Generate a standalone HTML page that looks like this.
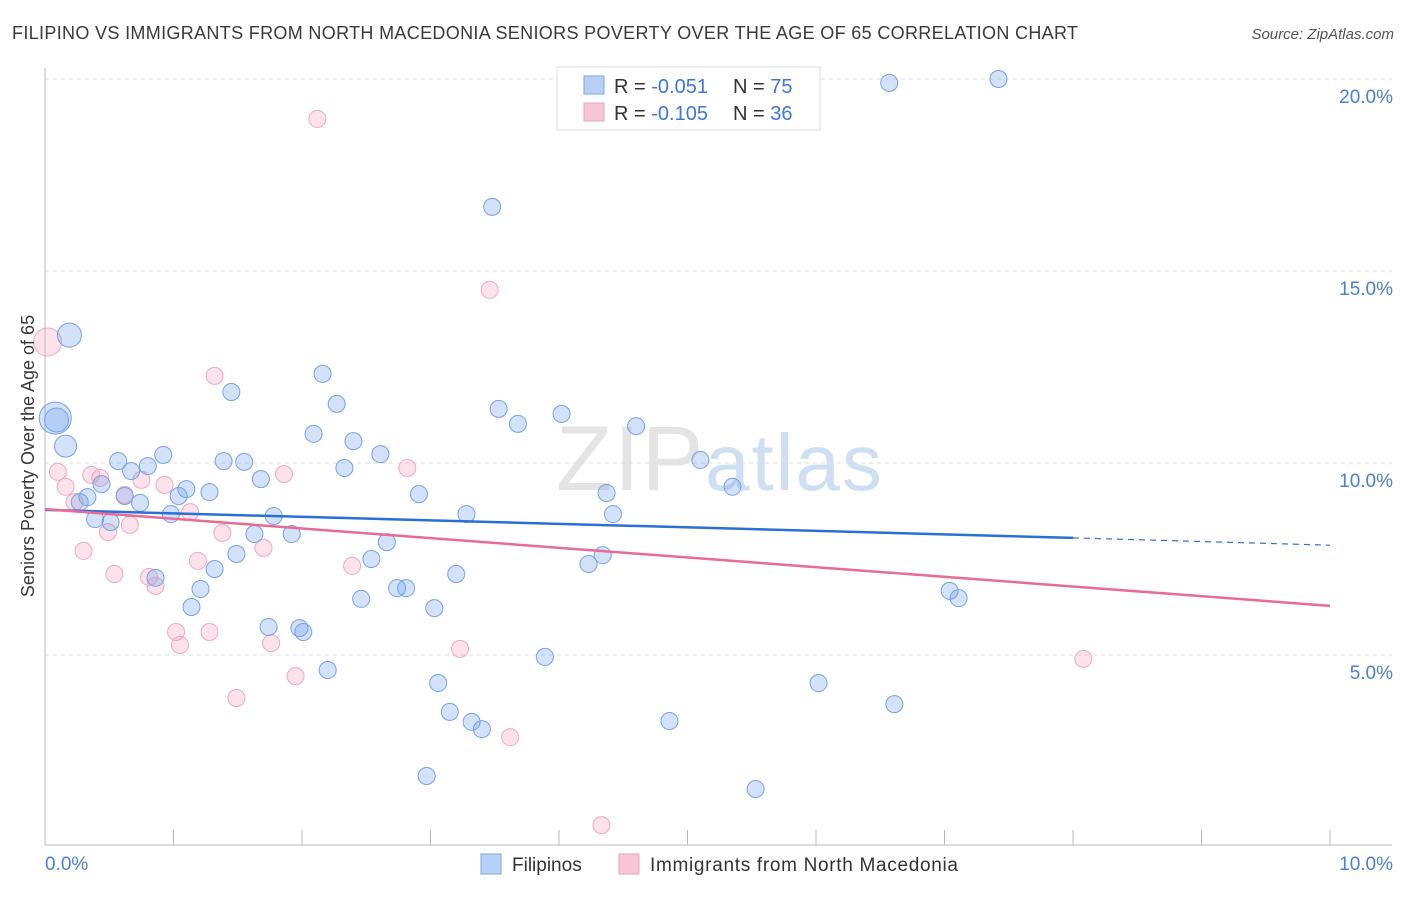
<!DOCTYPE html>
<html><head><meta charset="utf-8"><style>
body{margin:0;background:#fff;font-family:"Liberation Sans",sans-serif}
svg text{font-family:"Liberation Sans",sans-serif}
</style></head><body>
<svg id="chart" width="1406" height="892" viewBox="0 0 1406 892" xmlns="http://www.w3.org/2000/svg">
<text x="12" y="39" font-size="18" fill="#3a3a3a" textLength="1066" lengthAdjust="spacing">FILIPINO VS IMMIGRANTS FROM NORTH MACEDONIA SENIORS POVERTY OVER THE AGE OF 65 CORRELATION CHART</text>
<text x="1394" y="39" font-size="15" fill="#555" text-anchor="end" font-style="italic">Source: ZipAtlas.com</text>
<text x="720" y="490" font-size="92" fill="#e4e4e4" text-anchor="middle" font-family="Liberation Serif" letter-spacing="2">ZIP<tspan fill="#cfdff3" font-family="Liberation Sans" font-size="80">atlas</tspan></text>
<g id="grid"></g><g id="axes"></g><g id="pts"></g><g id="trends"></g>
<text transform="translate(34,456) rotate(-90)" font-size="18" fill="#3a3a3a" text-anchor="middle">Seniors Poverty Over the Age of 65</text>
<g>
<rect x="557" y="67" width="263" height="63" fill="#fff" stroke="#ddd"/>
<rect x="584" y="76" width="20" height="18" fill="#b8d0f5" stroke="#7aa8e6"/>
<text x="614" y="93" font-size="20" fill="#333">R = <tspan fill="#3b78d8">-0.051</tspan></text>
<text x="733" y="93" font-size="20" fill="#333">N = <tspan fill="#3b78d8">75</tspan></text>
<rect x="584" y="103" width="20" height="18" fill="#f8c6d6" stroke="#eea0b8"/>
<text x="614" y="120" font-size="20" fill="#333">R = <tspan fill="#3b78d8">-0.105</tspan></text>
<text x="733" y="120" font-size="20" fill="#333">N = <tspan fill="#3b78d8">36</tspan></text>
</g>
<g>
<rect x="481" y="854" width="20" height="20" fill="#b8d0f5" stroke="#7aa8e6"/>
<text x="512" y="871" font-size="19" fill="#333">Filipinos</text>
<rect x="619" y="854" width="20" height="20" fill="#f8c6d6" stroke="#eea0b8"/>
<text x="650" y="871" font-size="19" fill="#333" textLength="308" lengthAdjust="spacing">Immigrants from North Macedonia</text>
</g>
</svg>
<script>
const yTicks=[5,10,15,20];
const yTickLabels=["5.0%","10.0%","15.0%","20.0%"];
const xTickLabels=["0.0%","10.0%"];
const blueX=[0.19,0.08,0.09,0.16,0.27,0.33,0.39,0.44,0.51,0.57,0.62,0.67,0.74,0.80,0.86,0.92,0.98,1.04,1.10,1.14,1.21,1.28,1.32,1.39,1.45,1.49,1.55,1.63,1.68,1.74,1.78,1.92,1.98,2.01,2.09,2.16,2.20,2.27,2.33,2.40,2.46,2.54,2.61,2.66,2.74,2.81,2.91,2.97,3.03,3.06,3.15,3.20,3.28,3.32,3.40,3.48,3.53,3.68,3.89,4.02,4.23,4.34,4.37,4.42,4.60,4.86,5.10,5.35,5.53,6.02,6.57,6.61,7.04,7.11,7.42];
const blueY=[13.33,11.17,11.12,10.44,8.98,9.11,8.54,9.45,8.46,10.05,9.14,9.79,8.96,9.92,7.01,10.21,8.67,9.14,9.32,6.25,6.72,9.24,7.24,10.05,11.85,7.63,10.03,8.15,9.58,5.73,8.62,8.15,5.70,5.60,10.76,12.32,4.61,11.54,9.87,10.57,6.46,7.50,10.23,7.94,6.74,6.74,9.19,1.85,6.22,4.27,3.52,7.11,8.67,3.26,3.07,16.67,11.41,11.02,4.95,11.28,7.37,7.60,9.22,8.67,10.96,3.28,10.08,9.38,1.51,4.27,19.90,3.72,6.67,6.48,20.00];
const blueR=[12,16,12,11];
const pinkX=[0.02,0.10,0.16,0.23,0.30,0.36,0.43,0.49,0.54,0.62,0.66,0.75,0.81,0.86,0.93,1.02,1.05,1.13,1.19,1.28,1.32,1.38,1.49,1.70,1.76,1.86,1.95,2.12,2.39,2.82,3.23,3.46,3.62,4.15,4.33,8.08];
const pinkY=[13.15,9.77,9.38,8.98,7.71,9.69,9.61,8.20,7.11,9.17,8.39,9.56,7.03,6.80,9.43,5.60,5.26,8.72,7.45,5.60,12.27,8.18,3.88,7.79,5.31,9.71,4.45,18.96,7.32,9.87,5.16,14.51,2.86,20.00,0.57,4.90];
const pinkR=[14];
const blueTrendX=[0,8,10];
const blueTrendY=[8.78,8.05,7.86];
const pinkTrendX=[0,10];
const pinkTrendY=[8.80,6.28];

const NS="http://www.w3.org/2000/svg";
const X0=45,X1=1330,Y0=847,PX=38.4;
const sx=v=>X0+v*(X1-X0)/10;
const sy=v=>Y0-v*PX;
function mk(tag,attrs,parent){const e=document.createElementNS(NS,tag);for(const k in attrs)e.setAttribute(k,attrs[k]);parent.appendChild(e);return e;}
const grid=document.getElementById('grid'),axes=document.getElementById('axes'),pts=document.getElementById('pts'),tr=document.getElementById('trends');
yTicks.forEach((t,i)=>{
 const l=mk('line',{x1:X0,x2:1392,y1:sy(t),y2:sy(t),stroke:'#ddd','stroke-dasharray':'4,4'},grid);
 
 
 const tx=mk('text',{x:1393,y:sy(t)+24,'font-size':19,fill:'#4a7fd4','text-anchor':'end'},axes);
 tx.textContent=yTickLabels[i];
 
 
});
const ax=mk('line',{x1:X0,x2:X0,y1:68,y2:845,stroke:'#bbb'},axes);


const bx=mk('line',{x1:X0,x2:1392,y1:845,y2:845,stroke:'#bbb'},axes);


for(let i=0;i<=10;i++){
 const t=mk('line',{x1:sx(i),x2:sx(i),y1:830,y2:845,stroke:'#bbb'},axes);
 
 
}
[[0,'start',45],[10,'end',1393]].forEach((a,i)=>{
 const t=mk('text',{x:a[2],y:870,'font-size':19,fill:'#4a7fd4','text-anchor':a[1]},axes);
 t.textContent=xTickLabels[i];
 
 
});
function dots(xs,ys,rs,fill,stroke,name){
 xs.forEach((x,i)=>{
  const c=mk('circle',{cx:sx(x),cy:sy(ys[i]),r:rs[i]||8.5,fill:fill,stroke:stroke,'stroke-width':1},pts);
  
  
 });
}
dots(pinkX,pinkY,pinkR,'rgba(244,160,190,0.3)','#f0a8c0','point-north-macedonia');
dots(blueX,blueY,blueR,'rgba(110,160,235,0.3)','#74a3e6','point-filipinos');
const b1=mk('line',{x1:sx(blueTrendX[0]),y1:sy(blueTrendY[0]),x2:sx(blueTrendX[1]),y2:sy(blueTrendY[1]),stroke:'#2a6fd6','stroke-width':2.5},tr);


const b2=mk('line',{x1:sx(blueTrendX[1]),y1:sy(blueTrendY[1]),x2:sx(blueTrendX[2]),y2:sy(blueTrendY[2]),stroke:'#2a6fd6','stroke-width':1.2,'stroke-dasharray':'6,5'},tr);


const p1=mk('line',{x1:sx(pinkTrendX[0]),y1:sy(pinkTrendY[0]),x2:sx(pinkTrendX[1]),y2:sy(pinkTrendY[1]),stroke:'#e86a95','stroke-width':2.5},tr);


</script>
</body></html>
